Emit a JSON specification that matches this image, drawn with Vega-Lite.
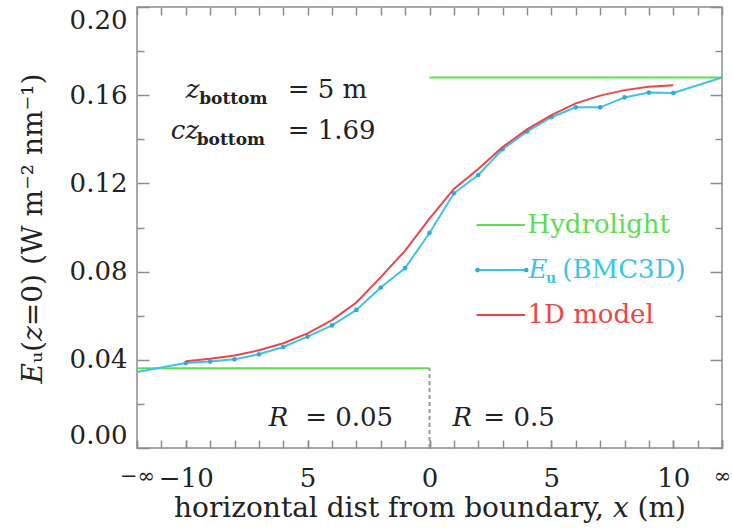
{
  "$schema": "https://vega.github.io/schema/vega-lite/v6.json",
  "width": 585,
  "height": 441,
  "autosize": {"type": "none"},
  "padding": {"left": 137, "top": 7, "right": 11, "bottom": 84},
  "background": "white",
  "config": {
    "view": {"stroke": "#8c8c8c", "strokeWidth": 1.5},
    "axis": {
      "domain": false,
      "grid": false,
      "tickColor": "#8c8c8c",
      "tickWidth": 1.5,
      "labelFont": "DejaVu Serif",
      "labelFontSize": 26,
      "labelColor": "#222222",
      "labelOverlap": false,
      "labelFlush": false,
      "labelBound": false,
      "titleFont": "DejaVu Serif",
      "titleFontSize": 28,
      "titleFontWeight": "normal",
      "titleColor": "#222222"
    }
  },
  "datasets": {
    "hydro": [
      {"seg": "R005", "x": -12, "y": 0.0362},
      {"seg": "R005", "x": 0, "y": 0.0362},
      {"seg": "R05", "x": 0, "y": 0.168},
      {"seg": "R05", "x": 12, "y": 0.168}
    ],
    "bmc": [
      {"x": -12, "y": 0.0345},
      {"x": -10, "y": 0.0385},
      {"x": -9, "y": 0.0392},
      {"x": -8, "y": 0.0402},
      {"x": -7, "y": 0.0425},
      {"x": -6, "y": 0.0458},
      {"x": -5, "y": 0.0505},
      {"x": -4, "y": 0.0556},
      {"x": -3, "y": 0.0626},
      {"x": -2, "y": 0.0728},
      {"x": -1, "y": 0.0816},
      {"x": 0, "y": 0.0975},
      {"x": 1, "y": 0.1155},
      {"x": 2, "y": 0.1238},
      {"x": 3, "y": 0.1355},
      {"x": 4, "y": 0.1435},
      {"x": 5, "y": 0.15},
      {"x": 6, "y": 0.1545},
      {"x": 7, "y": 0.1545},
      {"x": 8, "y": 0.159},
      {"x": 9, "y": 0.1612},
      {"x": 10, "y": 0.161},
      {"x": 12, "y": 0.168}
    ],
    "model": [
      {"x": -10, "y": 0.0393},
      {"x": -9, "y": 0.0405},
      {"x": -8, "y": 0.042},
      {"x": -7, "y": 0.0443},
      {"x": -6, "y": 0.0475},
      {"x": -5, "y": 0.052},
      {"x": -4, "y": 0.058},
      {"x": -3, "y": 0.066},
      {"x": -2, "y": 0.0775},
      {"x": -1, "y": 0.0895},
      {"x": 0, "y": 0.104},
      {"x": 1, "y": 0.1175},
      {"x": 2, "y": 0.1265},
      {"x": 3, "y": 0.1365},
      {"x": 4, "y": 0.1445},
      {"x": 5, "y": 0.151},
      {"x": 6, "y": 0.1563},
      {"x": 7, "y": 0.1598},
      {"x": 8, "y": 0.1623},
      {"x": 9, "y": 0.1638},
      {"x": 10, "y": 0.1645}
    ],
    "one": [{}]
  },
  "layer": [
    {
      "layer": [
        {
          "data": {"name": "hydro"},
          "mark": {"type": "line", "color": "#5fdc4f", "strokeWidth": 2},
          "encoding": {
            "x": {
              "field": "x", "type": "quantitative",
              "scale": {"domain": [-12, 12], "nice": false, "zero": false},
              "axis": {
                "orient": "bottom",
                "values": [-12, -10, -5, 0, 5, 10, 12],
                "labelExpr": "datum.value == -12 ? '−∞' : datum.value == -10 ? '−10' : datum.value == -5 ? '5' : datum.value == 0 ? '0' : datum.value == 5 ? '5' : datum.value == 10 ? '10' : datum.value == 12 ? '∞' : ''",
                "labelOverlap": false,
                "labelFontSize": {"condition": {"test": "abs(datum.value) == 12", "value": 21}, "value": 26},
                "tickSize": -8,
                "labelPadding": 25,
                "titlePadding": 3,
                "title": "horizontal dist from boundary, 𝑥  (m)"
              }
            },
            "y": {
              "field": "y", "type": "quantitative",
              "scale": {"domain": [0, 0.2], "nice": false, "zero": false},
              "axis": {
                "orient": "left",
                "values": [0, 0.02, 0.04, 0.06, 0.08, 0.1, 0.12, 0.14, 0.16, 0.18, 0.2],
                "labelExpr": "round(datum.value*50) % 2 == 0 ? format(datum.value, '.2f') : ''",
                "labelOverlap": false,
                "labelFlush": true,
                "labelFlushOffset": 0,
                "tickSize": {"condition": {"test": "round(datum.value*50) % 2 == 0", "value": -12}, "value": -7},
                "labelPadding": 22,
                "titleX": -104,
                "titleY": 221,
                "titleBaseline": "middle",
                "titleAlign": "center",
                "titleAngle": -90,
                "title": "𝐸ᵤ(𝑧=0)  (W m⁻² nm⁻¹)"
              }
            },
            "detail": {"field": "seg"}
          }
        },
        {
          "data": {"name": "one"},
          "mark": {"type": "rule", "color": "#999999", "strokeWidth": 2, "strokeDash": [4, 3]},
          "encoding": {"x": {"datum": 0}, "y": {"datum": 0}, "y2": {"datum": 0.0362}}
        },
        {
          "data": {"name": "bmc"},
          "mark": {"type": "line", "color": "#3cc3ea", "strokeWidth": 2},
          "encoding": {"x": {"field": "x", "type": "quantitative"}, "y": {"field": "y", "type": "quantitative"}}
        },
        {
          "data": {"name": "bmc"},
          "transform": [{"filter": "abs(datum.x) <= 10"}],
          "mark": {"type": "point", "filled": true, "color": "#2aaed8", "size": 22, "opacity": 1},
          "encoding": {"x": {"field": "x", "type": "quantitative"}, "y": {"field": "y", "type": "quantitative"}}
        },
        {
          "data": {"name": "model"},
          "mark": {"type": "line", "color": "#e8464b", "strokeWidth": 2},
          "encoding": {"x": {"field": "x", "type": "quantitative"}, "y": {"field": "y", "type": "quantitative"}}
        },
        {
          "data": {"name": "one"},
          "mark": {"type": "rule", "color": "#5fdc4f", "strokeWidth": 2},
          "encoding": {"x": {"datum": 1.93}, "x2": {"datum": 3.92}, "y": {"datum": 0.1011}}
        },
        {
          "data": {"name": "one"},
          "mark": {"type": "rule", "color": "#3cc3ea", "strokeWidth": 2},
          "encoding": {"x": {"datum": 1.97}, "x2": {"datum": 3.97}, "y": {"datum": 0.0807}}
        },
        {
          "data": {"name": "one"},
          "mark": {"type": "point", "filled": true, "color": "#2aaed8", "size": 22, "opacity": 1},
          "encoding": {"x": {"datum": 1.97}, "y": {"datum": 0.0807}}
        },
        {
          "data": {"name": "one"},
          "mark": {"type": "point", "filled": true, "color": "#2aaed8", "size": 22, "opacity": 1},
          "encoding": {"x": {"datum": 3.97}, "y": {"datum": 0.0807}}
        },
        {
          "data": {"name": "one"},
          "mark": {"type": "rule", "color": "#e8464b", "strokeWidth": 2},
          "encoding": {"x": {"datum": 1.93}, "x2": {"datum": 3.92}, "y": {"datum": 0.0603}}
        },
        {
          "data": {"name": "one"},
          "mark": {"type": "text", "text": "Hydrolight", "font": "DejaVu Serif", "fontSize": 26, "align": "left", "baseline": "middle", "color": "#5fdc4f"},
          "encoding": {"x": {"datum": 4.02}, "y": {"datum": 0.1011}}
        },
        {
          "data": {"name": "one"},
          "mark": {"type": "text", "text": "E", "font": "DejaVu Serif", "fontStyle": "italic", "fontSize": 26, "align": "left", "baseline": "middle", "color": "#3cc3ea"},
          "encoding": {"x": {"datum": 4.06}, "y": {"datum": 0.0807}}
        },
        {
          "data": {"name": "one"},
          "mark": {"type": "text", "text": "u", "font": "DejaVu Serif", "fontWeight": "bold", "fontSize": 14, "align": "left", "baseline": "middle", "color": "#3cc3ea"},
          "encoding": {"x": {"datum": 4.78}, "y": {"datum": 0.0766}}
        },
        {
          "data": {"name": "one"},
          "mark": {"type": "text", "text": "(BMC3D)", "font": "DejaVu Serif", "fontSize": 26, "align": "left", "baseline": "middle", "color": "#3cc3ea"},
          "encoding": {"x": {"datum": 5.45}, "y": {"datum": 0.0807}}
        },
        {
          "data": {"name": "one"},
          "mark": {"type": "text", "text": "1D model", "font": "DejaVu Serif", "fontSize": 26, "align": "left", "baseline": "middle", "color": "#e8464b"},
          "encoding": {"x": {"datum": 4.02}, "y": {"datum": 0.0603}}
        },
        {
          "data": {"name": "one"},
          "mark": {"type": "text", "text": "z", "font": "DejaVu Serif", "fontStyle": "italic", "fontSize": 26, "align": "left", "baseline": "middle", "color": "#222222"},
          "encoding": {"x": {"datum": -10.0}, "y": {"datum": 0.1624}}
        },
        {
          "data": {"name": "one"},
          "mark": {"type": "text", "text": "bottom", "font": "DejaVu Serif", "fontWeight": "bold", "fontSize": 17, "align": "left", "baseline": "middle", "color": "#222222"},
          "encoding": {"x": {"datum": -9.45}, "y": {"datum": 0.1585}}
        },
        {
          "data": {"name": "one"},
          "mark": {"type": "text", "text": "= 5 m", "font": "DejaVu Serif", "fontSize": 26, "align": "left", "baseline": "middle", "color": "#222222"},
          "encoding": {"x": {"datum": -5.82}, "y": {"datum": 0.1624}}
        },
        {
          "data": {"name": "one"},
          "mark": {"type": "text", "text": "cz", "font": "DejaVu Serif", "fontStyle": "italic", "fontSize": 26, "align": "left", "baseline": "middle", "color": "#222222"},
          "encoding": {"x": {"datum": -10.62}, "y": {"datum": 0.1438}}
        },
        {
          "data": {"name": "one"},
          "mark": {"type": "text", "text": "bottom", "font": "DejaVu Serif", "fontWeight": "bold", "fontSize": 17, "align": "left", "baseline": "middle", "color": "#222222"},
          "encoding": {"x": {"datum": -9.55}, "y": {"datum": 0.1399}}
        },
        {
          "data": {"name": "one"},
          "mark": {"type": "text", "text": "= 1.69", "font": "DejaVu Serif", "fontSize": 26, "align": "left", "baseline": "middle", "color": "#222222"},
          "encoding": {"x": {"datum": -5.82}, "y": {"datum": 0.1438}}
        },
        {
          "data": {"name": "one"},
          "mark": {"type": "text", "text": "R", "font": "DejaVu Serif", "fontStyle": "italic", "fontSize": 26, "align": "left", "baseline": "middle", "color": "#222222"},
          "encoding": {"x": {"datum": -6.6}, "y": {"datum": 0.0136}}
        },
        {
          "data": {"name": "one"},
          "mark": {"type": "text", "text": "= 0.05", "font": "DejaVu Serif", "fontSize": 26, "align": "left", "baseline": "middle", "color": "#222222"},
          "encoding": {"x": {"datum": -5.1}, "y": {"datum": 0.0136}}
        },
        {
          "data": {"name": "one"},
          "mark": {"type": "text", "text": "R", "font": "DejaVu Serif", "fontStyle": "italic", "fontSize": 26, "align": "left", "baseline": "middle", "color": "#222222"},
          "encoding": {"x": {"datum": 0.94}, "y": {"datum": 0.0136}}
        },
        {
          "data": {"name": "one"},
          "mark": {"type": "text", "text": "= 0.5", "font": "DejaVu Serif", "fontSize": 26, "align": "left", "baseline": "middle", "color": "#222222"},
          "encoding": {"x": {"datum": 2.21}, "y": {"datum": 0.0136}}
        }
      ]
    },
    {
      "data": {"name": "bmc"},
      "mark": {"type": "point", "opacity": 0},
      "encoding": {
        "x": {
          "field": "x", "type": "quantitative",
          "scale": {"domain": [-12, 12], "nice": false, "zero": false},
          "axis": {
            "orient": "top",
            "values": [-12, -11, -10, -9, -8, -7, -6, -5, -4, -3, -2, -1, 0, 1, 2, 3, 4, 5, 6, 7, 8, 9, 10, 11, 12],
            "labels": false,
            "tickSize": -8,
            "title": null
          }
        },
        "y": {
          "field": "y", "type": "quantitative",
          "scale": {"domain": [0, 0.2], "nice": false, "zero": false},
          "axis": {
            "orient": "right",
            "values": [0, 0.02, 0.04, 0.06, 0.08, 0.1, 0.12, 0.14, 0.16, 0.18, 0.2],
            "labels": false,
            "tickSize": {"condition": {"test": "round(datum.value*50) % 2 == 0", "value": -12}, "value": -7},
            "title": null
          }
        }
      }
    },
    {
      "data": {"name": "bmc"},
      "mark": {"type": "point", "opacity": 0},
      "encoding": {
        "x": {
          "field": "x", "type": "quantitative",
          "scale": {"domain": [-12, 12], "nice": false, "zero": false},
          "axis": {
            "orient": "bottom",
            "values": [-12, -11, -10, -9, -8, -7, -6, -5, -4, -3, -2, -1, 0, 1, 2, 3, 4, 5, 6, 7, 8, 9, 10, 11, 12],
            "labels": false,
            "tickSize": -8,
            "title": null
          }
        },
        "y": {
          "field": "y", "type": "quantitative",
          "scale": {"domain": [0, 0.2], "nice": false, "zero": false},
          "axis": null
        }
      }
    }
  ],
  "resolve": {"axis": {"x": "independent", "y": "independent"}}
}
